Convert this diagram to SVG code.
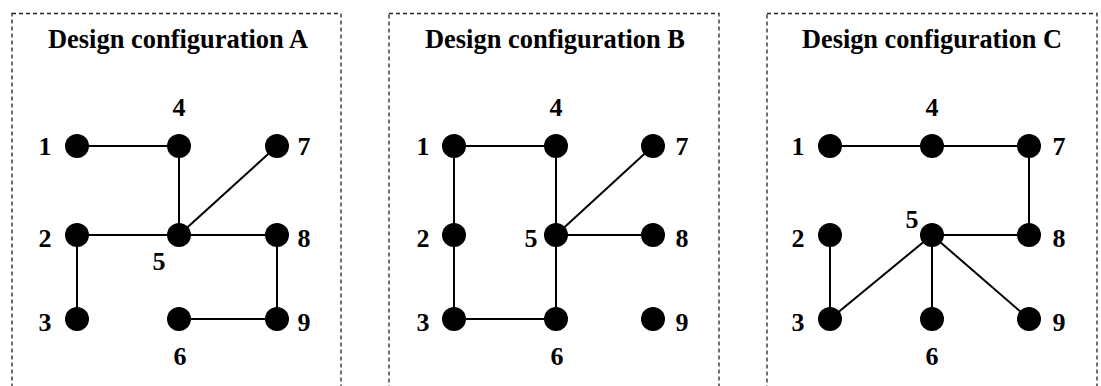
<svg xmlns="http://www.w3.org/2000/svg" width="1101" height="386" viewBox="0 0 1101 386">
<style>
.box{fill:none;stroke:#222;stroke-width:1.3;stroke-dasharray:4,3}
.t{font-family:"Liberation Serif","Times New Roman",serif;font-weight:bold;font-size:26px;fill:#000;text-anchor:middle}
.h{font-size:27px}
.e{stroke:#000;stroke-width:2;fill:none}
.n{fill:#000}
</style>
<defs><circle id="dot" r="12" class="n"/></defs>
<rect width="1101" height="386" fill="#fff"/>

<!-- Panel A -->
<g id="panelA">
<rect class="box" x="12" y="13.5" width="329" height="390"/>
<text class="t h" x="178" y="48" textLength="260" lengthAdjust="spacingAndGlyphs">Design configuration A</text>
<g id="A-connectors">
<line class="e" x1="77" y1="146" x2="179" y2="146"/>
<line class="e" x1="179" y1="146" x2="179" y2="235"/>
<line class="e" x1="179" y1="235" x2="277" y2="146"/>
<line class="e" x1="77" y1="235" x2="277" y2="235"/>
<line class="e" x1="77" y1="235" x2="77" y2="319"/>
<line class="e" x1="277" y1="235" x2="277" y2="319"/>
<line class="e" x1="179" y1="319" x2="277" y2="319"/>
</g>
<g id="A-n1"><use href="#dot" x="77" y="146"/><text class="t" x="45" y="155">1</text></g>
<g id="A-n2"><use href="#dot" x="77" y="235"/><text class="t" x="45" y="247">2</text></g>
<g id="A-n3"><use href="#dot" x="77" y="319"/><text class="t" x="45" y="331">3</text></g>
<g id="A-n4"><use href="#dot" x="179" y="146"/><text class="t" x="179" y="116">4</text></g>
<g id="A-n5"><use href="#dot" x="179" y="235"/><text class="t" x="159" y="270">5</text></g>
<g id="A-n6"><use href="#dot" x="179" y="319"/><text class="t" x="180" y="365">6</text></g>
<g id="A-n7"><use href="#dot" x="277" y="146"/><text class="t" x="304" y="155">7</text></g>
<g id="A-n8"><use href="#dot" x="277" y="235"/><text class="t" x="304" y="247">8</text></g>
<g id="A-n9"><use href="#dot" x="277" y="319"/><text class="t" x="304" y="331">9</text></g>
</g>

<!-- Panel B -->
<g id="panelB">
<rect class="box" x="389" y="13.5" width="330" height="390"/>
<text class="t h" x="555" y="48" textLength="260" lengthAdjust="spacingAndGlyphs">Design configuration B</text>
<g id="B-connectors">
<line class="e" x1="454" y1="146" x2="556" y2="146"/>
<line class="e" x1="454" y1="146" x2="454" y2="319"/>
<line class="e" x1="454" y1="319" x2="556" y2="319"/>
<line class="e" x1="556" y1="146" x2="556" y2="319"/>
<line class="e" x1="556" y1="235" x2="653" y2="146"/>
<line class="e" x1="556" y1="235" x2="653" y2="235"/>
</g>
<g id="B-n1"><use href="#dot" x="454" y="146"/><text class="t" x="423" y="155">1</text></g>
<g id="B-n2"><use href="#dot" x="454" y="235"/><text class="t" x="423" y="247">2</text></g>
<g id="B-n3"><use href="#dot" x="454" y="319"/><text class="t" x="423" y="331">3</text></g>
<g id="B-n4"><use href="#dot" x="556" y="146"/><text class="t" x="556" y="116">4</text></g>
<g id="B-n5"><use href="#dot" x="556" y="235"/><text class="t" x="531" y="247">5</text></g>
<g id="B-n6"><use href="#dot" x="556" y="319"/><text class="t" x="557" y="365">6</text></g>
<g id="B-n7"><use href="#dot" x="653" y="146"/><text class="t" x="682" y="155">7</text></g>
<g id="B-n8"><use href="#dot" x="653" y="235"/><text class="t" x="682" y="247">8</text></g>
<g id="B-n9"><use href="#dot" x="653" y="319"/><text class="t" x="682" y="331">9</text></g>
</g>

<!-- Panel C -->
<g id="panelC">
<rect class="box" x="767" y="13.5" width="330" height="390"/>
<text class="t h" x="932" y="48" textLength="260" lengthAdjust="spacingAndGlyphs">Design configuration C</text>
<g id="C-connectors">
<line class="e" x1="830" y1="146" x2="1029" y2="146"/>
<line class="e" x1="1029" y1="146" x2="1029" y2="235"/>
<line class="e" x1="932" y1="235" x2="1029" y2="235"/>
<line class="e" x1="932" y1="235" x2="830" y2="319"/>
<line class="e" x1="932" y1="235" x2="932" y2="319"/>
<line class="e" x1="932" y1="235" x2="1029" y2="319"/>
<line class="e" x1="830" y1="235" x2="830" y2="319"/>
</g>
<g id="C-n1"><use href="#dot" x="830" y="146"/><text class="t" x="798" y="155">1</text></g>
<g id="C-n2"><use href="#dot" x="830" y="235"/><text class="t" x="798" y="247">2</text></g>
<g id="C-n3"><use href="#dot" x="830" y="319"/><text class="t" x="798" y="331">3</text></g>
<g id="C-n4"><use href="#dot" x="932" y="146"/><text class="t" x="932" y="116">4</text></g>
<g id="C-n5"><use href="#dot" x="932" y="235"/><text class="t" x="912" y="228">5</text></g>
<g id="C-n6"><use href="#dot" x="932" y="319"/><text class="t" x="932" y="365">6</text></g>
<g id="C-n7"><use href="#dot" x="1029" y="146"/><text class="t" x="1059" y="155">7</text></g>
<g id="C-n8"><use href="#dot" x="1029" y="235"/><text class="t" x="1059" y="247">8</text></g>
<g id="C-n9"><use href="#dot" x="1029" y="319"/><text class="t" x="1059" y="331">9</text></g>
</g>
</svg>
